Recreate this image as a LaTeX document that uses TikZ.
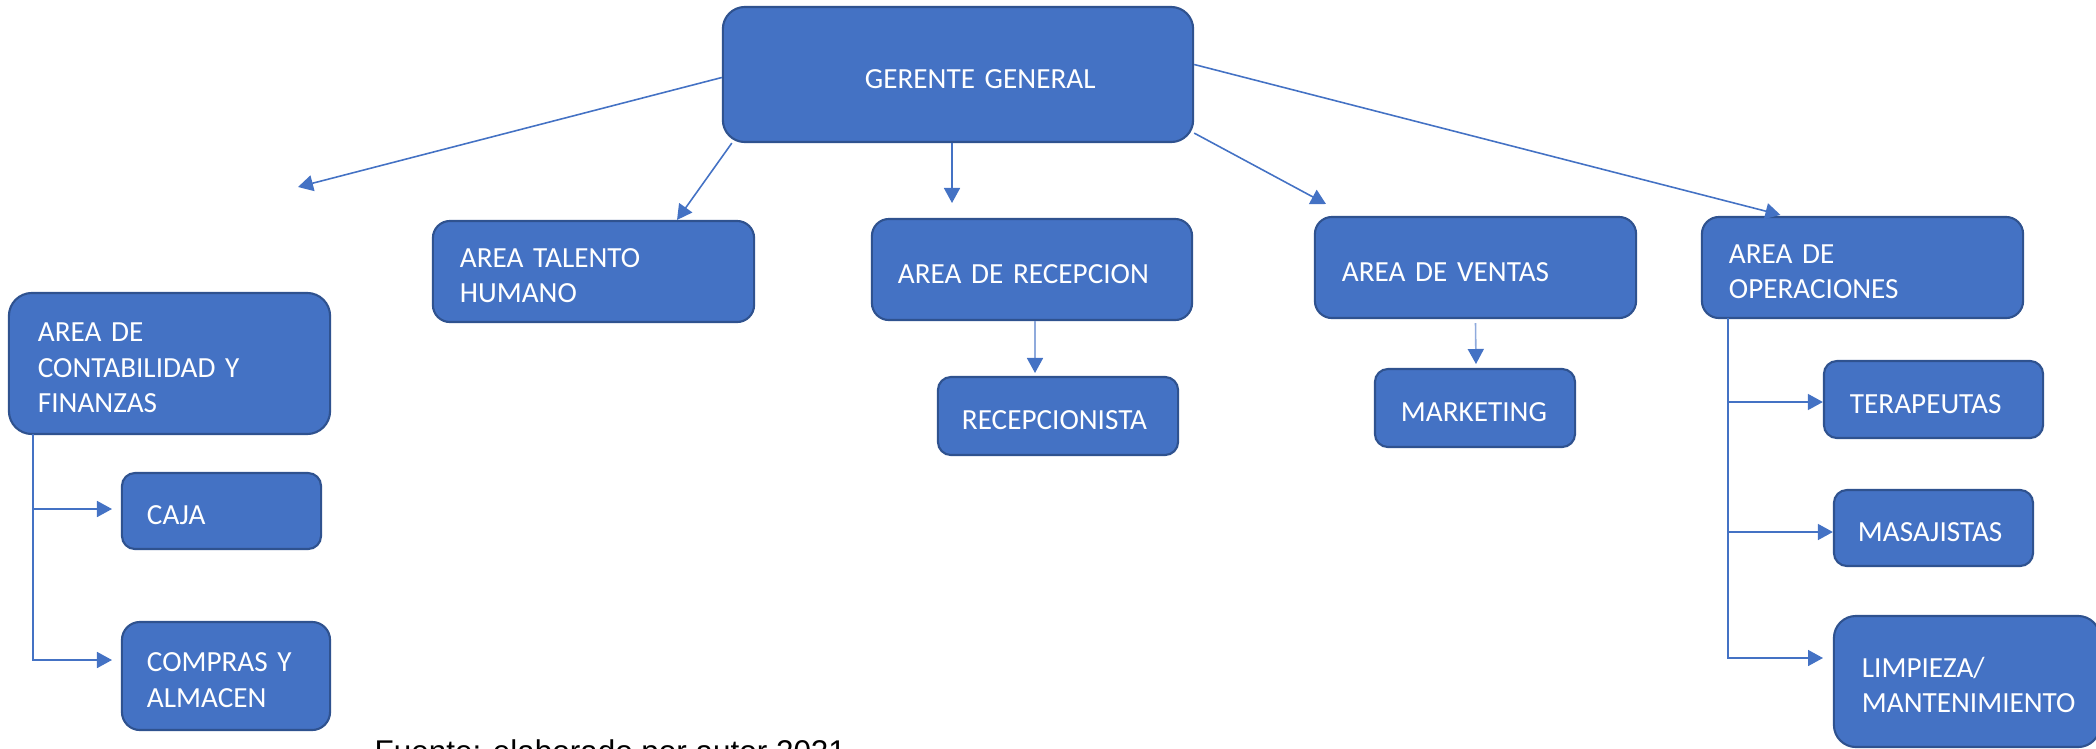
\documentclass[tikz,border=0pt]{standalone}
\usepackage{fontspec}
\setmainfont{Carlito}
\newfontfamily\capfont{Liberation Sans}
\usetikzlibrary{arrows.meta}
\definecolor{obox}{HTML}{4472C4}
\definecolor{oedge}{HTML}{2F528F}
\definecolor{olight}{HTML}{8FAADC}
\begin{document}
\begin{tikzpicture}[x=0.01cm,y=-0.01cm,
  box/.style={draw=oedge, line width=0.6pt, fill=obox, text=white, align=left,
    font=\fontsize{8.3pt}{10.2pt}\selectfont, inner ysep=0pt, text height=7.7pt},
  oneline/.style={text depth=0pt},
  twolines/.style={text depth=10.2pt},
  threelines/.style={text depth=20.4pt},
  conn/.style={draw=obox, line width=0.45pt, -{Triangle[length=0.15cm,width=0.16cm]}},
  lconn/.style={draw=olight, line width=0.45pt, -{Triangle[length=0.15cm,width=0.16cm,color=obox]}},
  captxt/.style={font=\capfont\fontsize{8.94pt}{10pt}\selectfont, text=black, inner sep=0pt}
]
\useasboundingbox (0,0) rectangle (2096,748);
\clip (0,0) rectangle (2096,748);

% boxes
\node[box, oneline, rounded corners=0.22cm, minimum width=4.70cm, minimum height=1.35cm, text width=1.86cm, inner xsep=1.42cm] (gg) at (958,74.5) {\mbox{GERENTE GENERAL}};
\node[box, twolines, rounded corners=0.17cm, minimum width=3.21cm, minimum height=1.01cm, text width=2.67cm, inner xsep=0.27cm] (tal) at (593.5,271.5) {AREA TALENTO\\HUMANO};
\node[box, oneline, rounded corners=0.17cm, minimum width=3.20cm, minimum height=1.01cm, text width=2.68cm, inner xsep=0.26cm] (rec) at (1032,269.5) {AREA DE RECEPCION};
\node[box, oneline, rounded corners=0.17cm, minimum width=3.21cm, minimum height=1.01cm, text width=2.67cm, inner xsep=0.27cm] (ven) at (1475.5,267.5) {AREA DE VENTAS};
\node[box, twolines, rounded corners=0.17cm, minimum width=3.21cm, minimum height=1.01cm, text width=2.67cm, inner xsep=0.27cm] (ope) at (1862.5,267.5) {AREA DE\\OPERACIONES};
\node[box, threelines, rounded corners=0.23cm, minimum width=3.21cm, minimum height=1.41cm, text width=2.63cm, inner xsep=0.29cm] (con) at (169.5,363.5) {AREA DE\\CONTABILIDAD Y\\FINANZAS};
\node[box, oneline, rounded corners=0.13cm, minimum width=1.99cm, minimum height=0.76cm, text width=1.49cm, inner xsep=0.25cm] (caj) at (221.5,511) {CAJA};
\node[box, twolines, rounded corners=0.18cm, minimum width=2.08cm, minimum height=1.08cm, text width=1.58cm, inner xsep=0.25cm] (com) at (226,676) {COMPRAS Y\\ALMACEN};
\node[box, oneline, rounded corners=0.13cm, minimum width=2.40cm, minimum height=0.78cm, text width=1.92cm, inner xsep=0.24cm] (rcp) at (1058,416) {RECEPCIONISTA};
\node[box, oneline, rounded corners=0.13cm, minimum width=2.00cm, minimum height=0.78cm, text width=1.48cm, inner xsep=0.26cm] (mkt) at (1475,408) {MARKETING};
\node[box, oneline, rounded corners=0.13cm, minimum width=2.19cm, minimum height=0.77cm, text width=1.67cm, inner xsep=0.26cm] (ter) at (1933.5,399.5) {TERAPEUTAS};
\node[box, oneline, rounded corners=0.13cm, minimum width=1.99cm, minimum height=0.76cm, text width=1.51cm, inner xsep=0.24cm] (mas) at (1933.5,528) {MASAJISTAS};
\node[box, twolines, rounded corners=0.22cm, minimum width=2.66cm, minimum height=1.31cm, text width=2.10cm, inner xsep=0.28cm] (lim) at (1967,681.5) {LIMPIEZA/\\MANTENIMIENTO};

% free ends
\coordinate (contEnd) at (298,187);
\coordinate (recEnd) at (952,203);
\coordinate (venEnd) at (1326,204);
\coordinate (rcpEnd) at (1035,373);
\coordinate (mktEnd) at (1476,364);
\coordinate (tl) at (33,434);
\coordinate (cajEnd) at (112,509);
\coordinate (comEnd) at (112,660);
\coordinate (tr) at (1728,318);
\coordinate (limEnd) at (1823,658);

% connectors from the general manager
\draw[conn] ([yshift=-0.03cm]gg.west) -- (contEnd);
\draw[conn] ([xshift=0.1cm]gg.south west) -- ([xshift=0.835cm]tal.north);
\draw[conn] ([xshift=-0.06cm]gg.south) -- (recEnd);
\draw[conn] ([yshift=0.1cm]gg.south east) -- (venEnd);
\draw[conn] ([yshift=0.1cm]gg.east) -- ([xshift=-0.82cm,yshift=0.01cm]ope.north);

% sub connectors
\draw[lconn] ([xshift=0.03cm]rec.south) -- (rcpEnd);
\draw[lconn] ([yshift=-0.04cm]ven.south) -- (mktEnd);

\draw[conn] (tl) |- (cajEnd);
\draw[conn] (tl) |- (comEnd);

\draw[conn] (tr) |- ([yshift=-0.025cm]ter.west);
\draw[conn] (tr) |- ([yshift=-0.04cm]mas.west);
\draw[conn] (tr) |- (limEnd);

% caption (cut by the lower edge)
\node[captxt, anchor=base west] (cap) at (374,762) {Fuente: elaborado por autor 2021};
\end{tikzpicture}
\end{document}
